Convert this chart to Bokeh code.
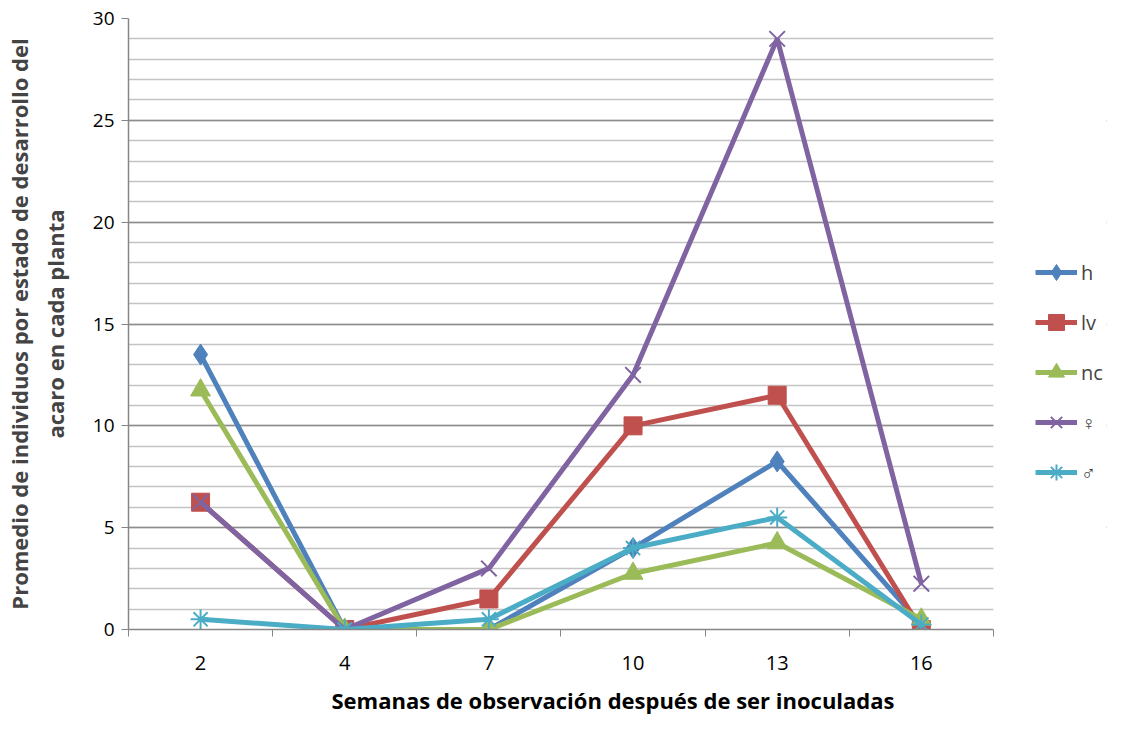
from bokeh.plotting import figure
from bokeh.models import FixedTicker, Legend, LegendItem, Range1d, Title, BoxAnnotation
from bokeh.embed import file_html
from bokeh.resources import INLINE

weeks = ["2", "4", "7", "10", "13", "16"]
h = [13.5, 0, 0, 4, 8.25, 0.25]
lv = [6.25, 0, 1.5, 10, 11.5, 0]
nc = [11.75, 0, 0, 2.75, 4.25, 0.5]
hembra = [6.25, 0, 3, 12.5, 29, 2.25]
macho = [0.5, 0, 0.5, 4, 5.5, 0.25]

series_names = ["h", "lv", "nc", "\u2640", "\u2642"]
colors = ["#4F81BD", "#C0504D", "#9BBB59", "#8064A2", "#4BACC6"]
markers = ["diamond", "square", "triangle", "x", "asterisk"]
sizes = [21, 18, 20, 22, 20]

FONT = "Open Sans"

W, H = 1111, 725
LEFT, RIGHT, TOP, BOTTOM = 120, 5, 18, 95
PLOT_W = 872  # width of the data area in px
N = len(weeks)
frame_w = W - LEFT - RIGHT
x_end = N * frame_w / PLOT_W

xs = [i + 0.5 for i in range(N)]

p = figure(width=W, height=H, output_backend="svg", toolbar_location=None,
           x_range=Range1d(0, x_end), y_range=Range1d(0, 30),
           min_border_left=LEFT, min_border_right=RIGHT, min_border_top=TOP,
           min_border_bottom=BOTTOM)
p.outline_line_color = None
p.background_fill_color = "white"

# axes
p.xaxis.ticker = FixedTicker(ticks=xs, minor_ticks=list(range(N + 1)))
p.xaxis.bounds = (0, N)
p.xaxis.major_label_overrides = {x: w for x, w in zip(xs, weeks)}
p.xaxis.major_tick_line_color = None
p.xaxis.minor_tick_line_color = "#868686"
p.xaxis.minor_tick_out = 7
p.xaxis.minor_tick_in = 0
p.xaxis.axis_line_color = "#868686"
p.xaxis.axis_line_width = 1.5
p.xaxis.major_label_text_font = FONT
p.xaxis.major_label_text_font_size = "20px"
p.xaxis.major_label_text_color = "#000000"
p.xaxis.major_label_standoff = 19

p.yaxis.ticker = FixedTicker(ticks=[0, 5, 10, 15, 20, 25, 30],
                             minor_ticks=list(range(0, 31)))
p.yaxis.minor_tick_line_color = None
p.yaxis.major_tick_line_color = "#868686"
p.yaxis.major_tick_out = 7
p.yaxis.major_tick_in = 0
p.yaxis.axis_line_color = "#868686"
p.yaxis.axis_line_width = 1.5
p.yaxis.major_label_text_font = FONT
p.yaxis.major_label_text_font_size = "19px"
p.yaxis.major_label_text_color = "#000000"
p.yaxis.major_label_standoff = 7
p.yaxis.axis_label = "Promedio de individuos por estado de desarrollo del\nacaro en cada planta"
p.yaxis.axis_label_text_font = FONT
p.yaxis.axis_label_text_font_style = "bold"
p.yaxis.axis_label_text_font_size = "22px"
p.yaxis.axis_label_standoff = 20

p.xgrid.grid_line_color = None
p.ygrid.grid_line_color = "#8C8C8C"
p.ygrid.grid_line_width = 1.5
p.ygrid.minor_grid_line_color = "#C4C4C4"
p.ygrid.minor_grid_line_width = 1.5

xtitle = Title(text="Semanas de observación después de ser inoculadas",
               align="left", offset=203, text_font=FONT, text_font_style="bold",
               text_font_size="22px", text_color="#000000", standoff=21)
p.add_layout(xtitle, "below")

items = []
for name, ys, c, m, s in zip(series_names, [h, lv, nc, hembra, macho], colors, markers, sizes):
    r1 = p.line(xs, ys, line_color=c, line_width=5)
    if m in ("x", "asterisk"):
        r2 = p.scatter(xs, ys, marker=m, size=s, line_color=c, line_width=2)
    else:
        r2 = p.scatter(xs, ys, marker=m, size=s, fill_color=c, line_color=c)
    items.append(LegendItem(label=name, renderers=[r1, r2]))

# blank area to the right of the data area, where the legend sits
mask = BoxAnnotation(left=N, fill_color="white", fill_alpha=1.0, line_color=None)
p.add_layout(mask)

legend = Legend(items=items, location=(PLOT_W + 35, 137), orientation="vertical",
                glyph_width=42, glyph_height=40, label_height=40, spacing=10,
                padding=0, margin=0, border_line_color=None, background_fill_alpha=0,
                label_text_font=FONT, label_text_font_size="20px", label_standoff=4)
p.add_layout(legend, "center")

open("out.html", "w").write(file_html(p, INLINE))
